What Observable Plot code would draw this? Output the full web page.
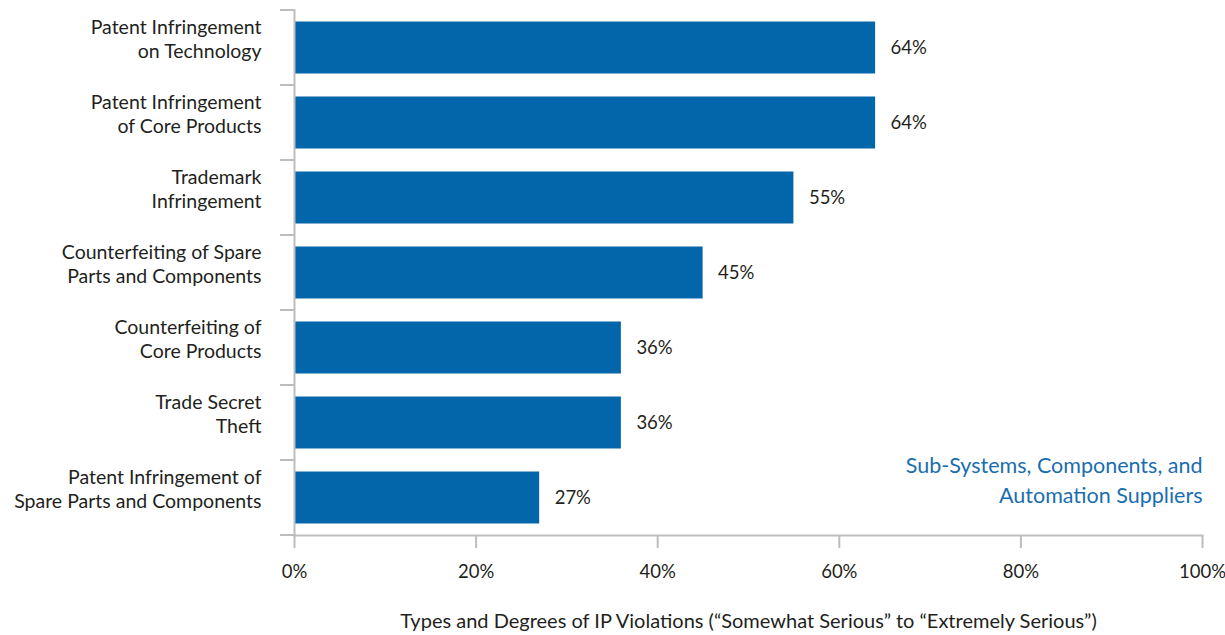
<!DOCTYPE html>
<html><head><meta charset="utf-8">
<script src="https://cdn.jsdelivr.net/npm/d3@7"></script>
<script src="https://cdn.jsdelivr.net/npm/@observablehq/plot@0.6"></script>
<style>body{margin:0;background:#fff;}</style>
</head><body><div id="chart"></div>
<script>
const categories = [
  "Patent Infringement\non Technology",
  "Patent Infringement\nof Core Products",
  "Trademark\nInfringement",
  "Counterfeiting of Spare\nParts and Components",
  "Counterfeiting of\nCore Products",
  "Trade Secret\nTheft",
  "Patent Infringement of\nSpare Parts and Components"
];
const values = [64, 64, 55, 45, 36, 36, 27];
const xTicks = [0, 20, 40, 60, 80, 100];
const xTitle = "Types and Degrees of IP Violations (\u201CSomewhat Serious\u201D to \u201CExtremely Serious\u201D)";
const legendText = "Sub-Systems, Components, and\nAutomation Suppliers";

const data = categories.map((c, i) => ({category: c, value: values[i]}));

const axisGray = "#bdbdbd";
const textColor = "#231f20";
const barColor = "#0466aa";
const font = "Lato, 'Open Sans', sans-serif";

function boundaryTicks(index, scales, vals, dimensions, context) {
  const y = scales.y;
  const bw = typeof y.bandwidth === "function" ? y.bandwidth() : y.bandwidth;
  const ys = categories.map(c => y(c)).concat([y(categories[categories.length - 1]) + bw]);
  const x0 = scales.x(0);
  const doc = (context && context.document) || document;
  const g = d3.select(doc.createElementNS("http://www.w3.org/2000/svg", "g"));
  g.selectAll("line").data(ys).join("line")
    .attr("x1", x0 - 14).attr("x2", x0)
    .attr("y1", d => d).attr("y2", d => d)
    .attr("stroke", axisGray).attr("stroke-width", 2);
  return g.node();
}

const chart = Plot.plot({
  width: 1225,
  height: 635,
  marginLeft: 294,
  marginRight: 23,
  marginTop: 9,
  marginBottom: 100,
  style: {fontFamily: font, fontSize: "18px", color: textColor, background: "#fff"},
  x: {domain: [0, 100]},
  y: {domain: categories, padding: 0, axis: null},
  marks: [
    Plot.barX(data, {x: "value", y: "category", fill: barColor, insetTop: 11.5, insetBottom: 11.5}),
    Plot.text(data, {x: "value", y: "category", text: d => d.value + "%", textAnchor: "start", dx: 15, fill: textColor, fontSize: 18.5}),
    Plot.text(data, {x: 0, y: "category", text: "category", textAnchor: "end", dx: -33, dy: -10, lineHeight: 1.23, fill: textColor, fontSize: 19.5}),
    Plot.ruleX([0], {stroke: axisGray, strokeWidth: 2}),
    Plot.frame({anchor: "bottom", stroke: axisGray, strokeWidth: 2}),
    boundaryTicks,
    Plot.axisX({ticks: xTicks, tickFormat: d => d + "%", tickSize: 13, tickPadding: 16, stroke: axisGray, strokeWidth: 2, fill: textColor, fontSize: 18.5,
      label: null}),
    Plot.axisX({ticks: [], label: xTitle, labelAnchor: "center", labelOffset: 92, labelArrow: "none", fill: textColor, fontSize: 20}),
    Plot.text([legendText], {frameAnchor: "bottom-right", text: d => d, textAnchor: "end", lineAnchor: "bottom", dy: -33, lineHeight: 1.35, fill: "#1a6eb0", fontSize: 21.5})
  ]
});
document.getElementById("chart").appendChild(chart);
</script>
</body></html>
